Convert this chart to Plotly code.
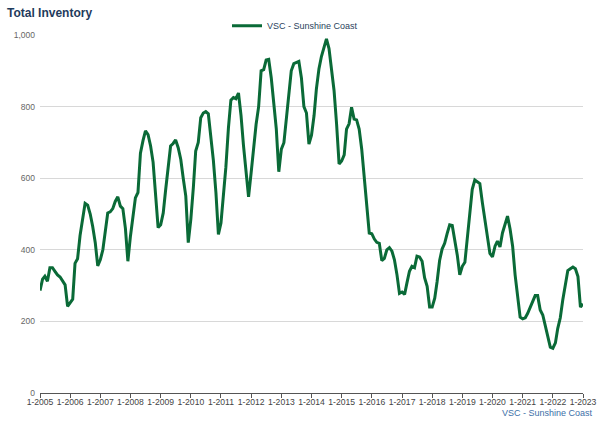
import plotly.graph_objects as go
import pandas as pd

# Monthly inventory, Jan 2005 - Jan 2023
values_2005 = [286, 318, 326, 312, 350, 350, 340, 330, 324, 312, 302, 242]
values_2006 = [252, 262, 362, 375, 440, 490, 530, 525, 500, 465, 420, 355]
values_2007 = [372, 400, 450, 503, 506, 515, 535, 548, 522, 515, 460, 368]
values_2008 = [438, 500, 545, 560, 670, 705, 732, 722, 690, 645, 560, 462]
values_2009 = [470, 503, 565, 630, 690, 697, 707, 685, 653, 600, 550, 420]
values_2010 = [485, 575, 676, 700, 769, 782, 786, 780, 720, 650, 560, 443]
values_2011 = [475, 548, 630, 740, 818, 825, 822, 838, 775, 690, 610, 548]
values_2012 = [615, 695, 750, 800, 900, 903, 930, 932, 880, 810, 737, 618]
values_2013 = [681, 699, 765, 850, 900, 920, 923, 926, 880, 800, 782, 695]
values_2014 = [720, 775, 849, 905, 940, 965, 989, 962, 896, 845, 750, 640]
values_2015 = [648, 665, 737, 752, 798, 765, 763, 737, 681, 597, 520, 447]
values_2016 = [445, 430, 421, 418, 370, 376, 400, 406, 396, 372, 330, 278]
values_2017 = [282, 275, 307, 340, 354, 350, 382, 380, 368, 322, 298, 240]
values_2018 = [240, 265, 310, 370, 402, 418, 445, 470, 468, 430, 385, 330]
values_2019 = [354, 365, 429, 505, 569, 595, 590, 585, 531, 485, 440, 390]
values_2020 = [380, 410, 424, 408, 447, 471, 494, 458, 410, 330, 260, 212]
values_2021 = [207, 210, 222, 238, 252, 272, 272, 232, 218, 188, 158, 128]
values_2022 = [125, 140, 180, 210, 260, 305, 342, 347, 352, 347, 325, 240]
values_2023 = [249]

series_name = "VSC - Sunshine Coast"
tick_years = list(range(2005, 2024))
tick_labels = [f"1-{y}" for y in tick_years]

values = (values_2005 + values_2006 + values_2007 + values_2008 + values_2009 +
          values_2010 + values_2011 + values_2012 + values_2013 + values_2014 +
          values_2015 + values_2016 + values_2017 + values_2018 + values_2019 +
          values_2020 + values_2021 + values_2022 + values_2023)
dates = pd.date_range("2005-01-01", periods=len(values), freq="MS")
tick_vals = [pd.Timestamp(f"{y}-01-01") for y in tick_years]

FONT = "Liberation Sans, Arial, sans-serif"
H = 424
W = 600
ML, MR, MT, MB = 40, 17, 35, 31
PW = W - ML - MR
PH = H - MT - MB

fig = go.Figure()
fig.add_trace(go.Scatter(
    x=dates, y=values, mode="lines", name=series_name,
    line=dict(color="#0a6a37", width=3),
    showlegend=True,
))

fig.update_layout(
    width=W, height=H,
    paper_bgcolor="white", plot_bgcolor="white",
    margin=dict(l=ML, r=MR, t=MT, b=MB, autoexpand=False),
    font=dict(family=FONT, size=9, color="#666666"),
    title=dict(text="<b>Total Inventory</b>", x=7 / W, xanchor="left",
               y=1 - 12.7 / H, yanchor="middle", yref="container", xref="container",
               font=dict(family=FONT, size=12, color="#1f3b5c")),
    legend=dict(orientation="h", x=227 / W, xanchor="left", xref="container",
                y=1 - 25.7 / H, yanchor="middle", yref="container",
                font=dict(family=FONT, size=9, color="#2b3f5c"),
                bgcolor="rgba(0,0,0,0)", itemwidth=30),
    showlegend=True,
)

fig.update_xaxes(
    range=[dates[0], dates[-1]],
    tickvals=tick_vals, ticktext=tick_labels,
    tickangle=0,
    showgrid=False, showline=True, linecolor="#555555", linewidth=1,
    ticks="outside", ticklen=4, tickcolor="#555555",
    tickfont=dict(family=FONT, size=8.6, color="#444444"),
    ticklabelstandoff=-3,
    zeroline=False, automargin=False,
)
fig.update_yaxes(
    range=[0, 1000], tickvals=[0, 200, 400, 600, 800, 1000],
    tickformat=",d",
    showgrid=True, gridcolor="#d8d8d8", gridwidth=1,
    zeroline=False, showline=False,
    tickfont=dict(family=FONT, size=8.5, color="#666666"),
    ticks="", ticklen=0, ticklabelstandoff=4, automargin=False,
)

fig.add_annotation(
    text=series_name, xref="paper", yref="paper",
    x=(595 - ML) / PW, xanchor="right",
    y=-(413 - (H - MB)) / PH, yanchor="middle",
    showarrow=False, font=dict(family=FONT, size=9, color="#3d6fa8"),
)

fig.write_html("out.html", config={"displayModeBar": False},
               post_script="document.body.style.margin='0';")
